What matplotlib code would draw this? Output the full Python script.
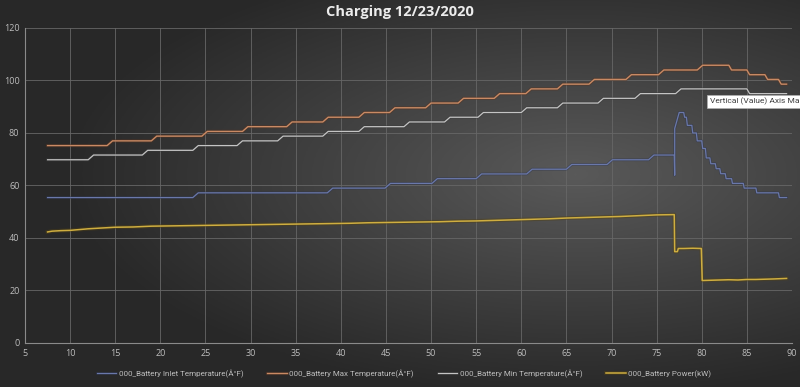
import matplotlib
matplotlib.use("Agg")
import matplotlib.pyplot as plt
import matplotlib.patheffects as pe
import numpy as np

plt.rcParams['font.family'] = ['Open Sans', 'DejaVu Sans']

# Battery inlet temperature (blue)
inlet_x = [7.5, 23.6, 24.2, 38.5, 39.1, 44.9, 45.5, 50.1, 50.7, 55.0, 55.6, 60.6, 61.2,
           65.0, 65.6, 69.5, 70.1, 74.1, 74.7, 76.95, 77.0, 77.0, 77.5, 78.0, 78.1, 78.3,
           78.4, 78.9, 79.0, 79.4, 79.5, 80.0, 80.1, 80.4, 80.5, 80.9, 81.0, 81.5, 81.6,
           82.0, 82.1, 82.6, 82.7, 83.3, 83.4, 84.6, 84.7, 86.0, 86.1, 88.5, 88.6, 89.4]
inlet_y = [55.4, 55.4, 57.2, 57.2, 59.0, 59.0, 60.8, 60.8, 62.6, 62.6, 64.4, 64.4, 66.2,
           66.2, 68.0, 68.0, 69.8, 69.8, 71.6, 71.6, 63.9, 81.7, 87.8, 87.8, 86.0, 86.0,
           82.9, 82.9, 80.0, 80.0, 77.0, 77.0, 74.1, 74.1, 70.5, 70.5, 68.3, 68.3, 66.4,
           66.4, 64.5, 64.5, 62.6, 62.6, 60.8, 60.8, 59.0, 59.0, 57.2, 57.2, 55.4, 55.4]

# Battery max temperature (orange)
max_x = [7.5, 14.1, 14.7, 19.0, 19.6, 24.6, 25.2, 29.1, 29.7, 34.0, 34.6, 38.0, 38.6,
         42.0, 42.6, 45.4, 46.0, 49.4, 50.0, 53.0, 53.6, 57.0, 57.6, 60.5, 61.1, 64.0,
         64.6, 67.5, 68.1, 71.6, 72.2, 75.2, 75.8, 79.5, 80.1, 83.0, 83.3, 85.0, 85.3,
         87.0, 87.3, 88.5, 88.8, 89.4]
max_y = [75.2, 75.2, 77.0, 77.0, 78.8, 78.8, 80.6, 80.6, 82.4, 82.4, 84.2, 84.2, 86.0,
         86.0, 87.8, 87.8, 89.6, 89.6, 91.4, 91.4, 93.2, 93.2, 95.0, 95.0, 96.8, 96.8,
         98.6, 98.6, 100.4, 100.4, 102.2, 102.2, 104.0, 104.0, 105.8, 105.8, 104.0, 104.0,
         102.2, 102.2, 100.4, 100.4, 98.6, 98.6]

# Battery min temperature (light gray)
min_x = [7.5, 12.0, 12.6, 18.0, 18.6, 23.6, 24.2, 28.5, 29.1, 33.0, 33.6, 38.0, 38.6,
         42.0, 42.6, 47.0, 47.6, 51.5, 52.1, 55.2, 55.8, 60.0, 60.6, 64.0, 64.6, 68.5,
         69.1, 72.6, 73.2, 77.1, 77.7, 85.0, 85.3, 89.4]
min_y = [69.8, 69.8, 71.6, 71.6, 73.4, 73.4, 75.2, 75.2, 77.0, 77.0, 78.8, 78.8, 80.6,
         80.6, 82.4, 82.4, 84.2, 84.2, 86.0, 86.0, 87.8, 87.8, 89.6, 89.6, 91.4, 91.4,
         93.2, 93.2, 95.0, 95.0, 96.8, 96.8, 95.0, 95.0]

# Battery power in kW (gold)
power_x = [7.5, 8.0, 9.0, 10.0, 11.0, 12.0, 13.0, 14.0, 15.0, 17.0, 19.0, 21.0, 23.0,
           25.0, 27.0, 29.0, 31.0, 33.0, 35.0, 37.0, 39.0, 41.0, 43.0, 45.0, 47.0, 49.0,
           51.0, 53.0, 55.0, 57.0, 59.0, 61.0, 63.0, 65.0, 67.0, 69.0, 71.0, 73.0, 75.0,
           76.95, 77.0, 77.3, 77.4, 78.0, 79.0, 79.95, 80.05, 81.0, 82.0, 83.0, 84.0,
           85.0, 86.0, 87.0, 88.0, 89.4]
power_y = [42.3, 42.6, 42.8, 42.9, 43.2, 43.5, 43.7, 43.9, 44.1, 44.2, 44.5, 44.6, 44.7,
           44.8, 44.9, 45.0, 45.1, 45.2, 45.3, 45.4, 45.5, 45.6, 45.8, 45.9, 46.0, 46.1,
           46.2, 46.4, 46.5, 46.7, 46.9, 47.1, 47.3, 47.6, 47.8, 48.0, 48.2, 48.5, 48.8,
           48.9, 34.8, 34.8, 36.0, 36.0, 36.1, 36.0, 23.8, 23.9, 24.0, 24.1, 24.0, 24.2,
           24.2, 24.3, 24.4, 24.6]

x_ticks = list(range(5, 95, 5))
y_ticks = list(range(0, 140, 20))

fig = plt.figure(figsize=(8, 3.87), dpi=100)

# dark radial-gradient backdrop like the Excel chart style
bg = fig.add_axes([0, 0, 1, 1], zorder=-2)
gx, gy = np.meshgrid(np.linspace(0, 1, 400), np.linspace(0, 1, 200))
r = np.sqrt(((gx - 0.72) / 1.0) ** 2 + ((gy - 0.45) / 0.9) ** 2)
shade = np.clip(0.35 - 0.30 * r, 0.16, 0.35)
bg.imshow(np.dstack([shade, shade, shade]), aspect='auto', extent=[0, 1, 0, 1])
bg.axis('off')

ax = fig.add_axes([0.03125, 0.1137, 0.95875, 0.814])
ax.set_facecolor('none')

glow = lambda c, w: [pe.Stroke(linewidth=w, foreground=c, alpha=0.45), pe.Normal()]

ax.plot(inlet_x, inlet_y, color='#6a78aa', lw=0.9,
        label='000_Battery Inlet Temperature(Â°F)', path_effects=glow('#2a3350', 2.0))
ax.plot(max_x, max_y, color='#c98a64', lw=1.0,
        label='000_Battery Max Temperature(Â°F)', path_effects=glow('#5a3420', 2.4))
ax.plot(min_x, min_y, color='#c4c4c4', lw=0.9,
        label='000_Battery Min Temperature(Â°F)', path_effects=glow('#3a3a3a', 2.2))
ax.plot(power_x, power_y, color='#cfae40', lw=1.1,
        label='000_Battery Power(kW)', path_effects=glow('#524214', 2.8))

ax.set_xlim(5, 90)
ax.set_ylim(0, 120)
ax.set_xticks(x_ticks)
ax.set_yticks(y_ticks)
ax.grid(True, color='#676767', lw=0.6)
ax.set_axisbelow(True)
for s in ['top', 'right']:
    ax.spines[s].set_visible(False)
for s in ['left', 'bottom']:
    ax.spines[s].set_color('#8a8a8a')
    ax.spines[s].set_linewidth(0.8)
ax.tick_params(length=0, colors='#bdbdbd', labelsize=6.5, pad=4)

fig.text(0.5, 0.968, 'Charging 12/23/2020', ha='center', va='center',
         color='#ececec', fontsize=10.5, fontweight='bold')

leg = fig.legend(loc='lower center', bbox_to_anchor=(0.505, 0.005), ncol=4, frameon=False,
                 prop={'family': 'Roboto', 'size': 5.8},
                 handlelength=2.4, columnspacing=3.0, handletextpad=0.3)
for t in leg.get_texts():
    t.set_color('#bdbdbd')

# hover tooltip captured in the screenshot
fig.text(0.887, 0.738, 'Vertical (Value) Axis Ma', ha='left', va='center',
         color='#404040', fontsize=6.0, family='Roboto',
         bbox=dict(boxstyle='square,pad=0.35', fc='white', ec='#b0b0b0', lw=0.5))

fig.savefig('out.png', dpi=100)
